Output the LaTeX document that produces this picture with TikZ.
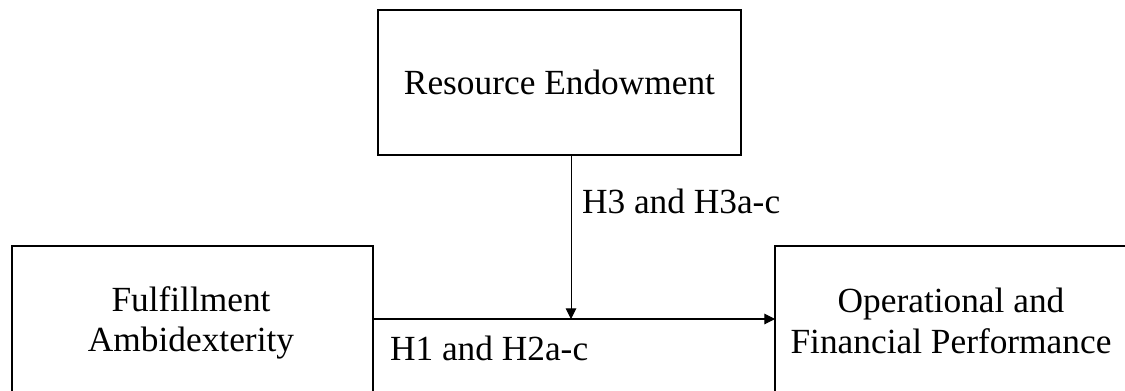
\documentclass[tikz,border=0pt]{standalone}
\usepackage{fontspec}
\setmainfont{Liberation Serif}
\usetikzlibrary{arrows.meta}
\begin{document}
\begin{tikzpicture}[x=0.75pt,y=-0.75pt,
  box/.style={draw=black,line width=1.5pt,inner sep=0pt,outer sep=0pt},
  label text/.style={inner sep=0pt,outer sep=0pt,align=center,
    font=\fontsize{26.5pt}{30.5pt}\selectfont},
  hyp/.style={inner sep=0pt,outer sep=0pt,anchor=base west,
    font=\fontsize{26.5pt}{30.5pt}\selectfont},
  link/.style={draw=black,line width=0.8pt,
    -{Triangle[length=8pt,width=8pt]}}]
\useasboundingbox (0,0) rectangle (1125,390);
\clip (0,0) rectangle (1125,390);

% constructs
\node[box,label text,minimum width=272.25pt,minimum height=108.75pt]
  (re) at (559.5,82.5) {Resource Endowment};
\node[box,minimum width=270.75pt,minimum height=130.5pt] (fa) at (192.5,333) {};
\node[box,minimum width=273.75pt,minimum height=130.5pt] (ofp) at (957.5,333) {};
\node[label text] (fatext) at (191,323) {Fulfillment\\Ambidexterity};
\node[label text] (ofptext) at (951,321) {Operational and\\Financial Performance};

% hypothesised paths
\coordinate (path) at (0,319);
\coordinate (mod) at (571,319);
\draw[link] (fa.east |- path) -- (ofp.west |- path);
\draw[link,line width=0.7pt] (re.south -| mod) -- (mod);

\node[hyp] (h1) at (390,360) {H1 and H2a-c};
\node[hyp] (h3) at (582,213) {H3 and H3a-c};
\end{tikzpicture}
\end{document}
